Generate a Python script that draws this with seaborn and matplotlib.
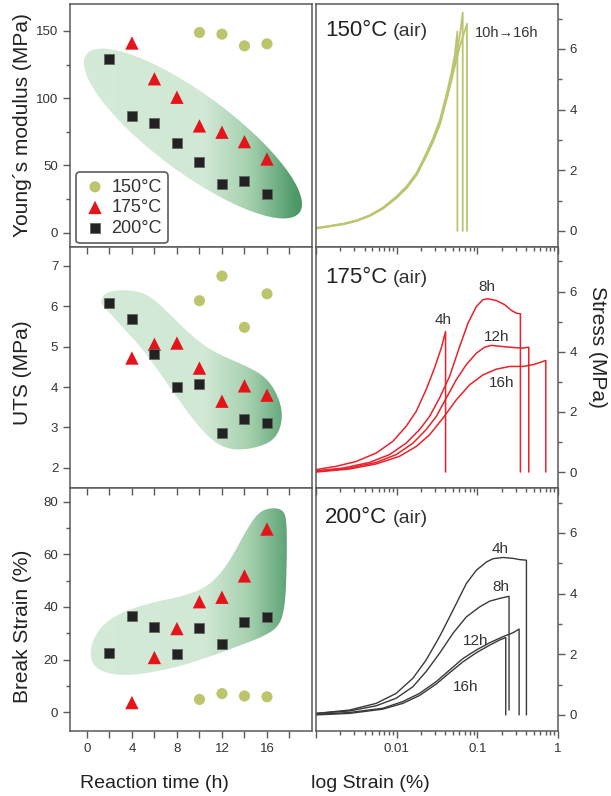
import numpy as np
import pandas as pd
import matplotlib
matplotlib.use("Agg")
import matplotlib.pyplot as plt
import seaborn as sns
from matplotlib.patches import Polygon, Ellipse
from matplotlib.ticker import MultipleLocator, FixedLocator, FixedFormatter, LogLocator, NullFormatter, NullLocator

sns.set_theme(style="white")
plt.rcParams["font.family"] = ["Liberation Sans", "DejaVu Sans"]

# ---------------- data: left column (properties vs reaction time) ----------------
temps = ["150°C", "175°C", "200°C"]
time_150 = [10, 12, 14, 16]
time_175 = [4, 6, 8, 10, 12, 14, 16]
time_200 = [2, 4, 6, 8, 10, 12, 14, 16]
time_major = [0, 4, 8, 12, 16]
time_minor = [2, 6, 10, 14, 18]

modulus_150 = [148.8, 147.6, 138.9, 140.4]
modulus_175 = [141.0, 114.4, 100.7, 79.4, 74.7, 67.7, 54.8]
modulus_200 = [129.2, 86.8, 81.8, 67.0, 52.4, 36.2, 38.5, 29.0]

uts_150 = [6.14, 6.75, 5.48, 6.31]
uts_175 = [4.72, 5.06, 5.09, 4.47, 3.65, 4.03, 3.80]
uts_200 = [6.08, 5.68, 4.83, 3.99, 4.08, 2.86, 3.21, 3.10]

brk_150 = [4.9, 7.1, 6.2, 5.9]
brk_175 = [3.7, 20.8, 31.8, 42.0, 43.7, 51.8, 69.6]
brk_200 = [22.4, 36.6, 32.3, 22.2, 31.9, 26.1, 34.2, 36.3]

# ---------------- data: right column (stress-strain curves) ----------------
s150_strain = {
    "10h": [0.001, 0.0015, 0.0022, 0.00321, 0.00469, 0.00684, 0.010, 0.0133, 0.0177, 0.0234, 0.0284,
            0.0343, 0.0414, 0.0477, 0.0525, 0.0566, 0.0566],
    "12h": [0.001, 0.0015, 0.0022, 0.00321, 0.00469, 0.00684, 0.010, 0.0133, 0.0177, 0.0234, 0.0284,
            0.0343, 0.0414, 0.0477, 0.0525, 0.0605, 0.0659, 0.0659],
    "16h": [0.001, 0.0015, 0.0022, 0.00321, 0.00469, 0.00684, 0.010, 0.0133, 0.0177, 0.0234, 0.0284,
            0.0343, 0.0414, 0.0477, 0.0525, 0.0605, 0.0745, 0.0745],
}
s150_stress = {
    "10h": [0.10, 0.17, 0.24, 0.35, 0.52, 0.78, 1.14, 1.47, 1.92, 2.57, 3.07, 3.66, 4.50, 5.20, 5.80, 6.57, 0.0],
    "12h": [0.09, 0.16, 0.23, 0.34, 0.51, 0.76, 1.11, 1.44, 1.88, 2.52, 3.01, 3.58, 4.40, 5.08, 5.58, 6.41, 7.20, 0.0],
    "16h": [0.08, 0.15, 0.22, 0.33, 0.50, 0.74, 1.09, 1.41, 1.84, 2.47, 2.95, 3.50, 4.30, 4.95, 5.42, 6.08, 6.83, 0.0],
}

s175_strain = {
    "4h": [0.001, 0.00177, 0.00314, 0.00556, 0.00896, 0.0131, 0.0175, 0.0232, 0.0295, 0.0357, 0.0404, 0.0404],
    "8h": [0.001, 0.00214, 0.0046, 0.00815, 0.0131, 0.0192, 0.0256, 0.034, 0.0453, 0.0604, 0.0766, 0.0972,
           0.1175, 0.1358, 0.1722, 0.2187, 0.2645, 0.305, 0.342, 0.342],
    "12h": [0.001, 0.00259, 0.00556, 0.00986, 0.0159, 0.0232, 0.031, 0.0412, 0.0549, 0.073, 0.0972, 0.1234,
            0.1493, 0.2084, 0.305, 0.369, 0.4342, 0.4342],
    "16h": [0.001, 0.00259, 0.00556, 0.0108, 0.0175, 0.0256, 0.0374, 0.0549, 0.0803, 0.1175, 0.1722, 0.2525,
            0.369, 0.492, 0.5947, 0.7058, 0.7058],
}
s175_stress = {
    "4h": [0.08, 0.19, 0.35, 0.63, 1.02, 1.52, 2.02, 2.74, 3.46, 4.12, 4.67, 0.0],
    "8h": [0.04, 0.13, 0.32, 0.58, 0.96, 1.41, 1.85, 2.46, 3.18, 4.17, 4.95, 5.50, 5.73, 5.76, 5.70, 5.56,
           5.37, 5.28, 5.26, 0.0],
    "12h": [0.02, 0.13, 0.32, 0.58, 0.96, 1.41, 1.85, 2.46, 3.07, 3.57, 3.95, 4.15, 4.21, 4.17, 4.13, 4.12, 4.15, 0.0],
    "16h": [0.0, 0.10, 0.27, 0.52, 0.85, 1.24, 1.79, 2.40, 2.90, 3.23, 3.42, 3.51, 3.51, 3.57, 3.64, 3.71, 0.0],
}

s200_strain = {
    "4h": [0.001, 0.00259, 0.00556, 0.00986, 0.0159, 0.0232, 0.034, 0.0499, 0.073, 0.0972, 0.1294, 0.1566,
           0.2084, 0.2775, 0.3357, 0.4061, 0.4061],
    "8h": [0.001, 0.00259, 0.00556, 0.00986, 0.0159, 0.0232, 0.034, 0.0499, 0.073, 0.1066, 0.1422, 0.1892,
           0.2472, 0.2472],
    "12h": [0.001, 0.00259, 0.00673, 0.0119, 0.0192, 0.031, 0.0453, 0.0664, 0.0972, 0.1422, 0.2084, 0.2775,
            0.3296, 0.3296],
    "16h": [0.001, 0.00259, 0.00673, 0.0119, 0.0192, 0.031, 0.0453, 0.0664, 0.0972, 0.1422, 0.1892, 0.225, 0.225],
}
s200_stress = {
    "4h": [0.05, 0.16, 0.38, 0.71, 1.21, 1.81, 2.58, 3.45, 4.33, 4.77, 5.04, 5.15, 5.19, 5.16, 5.12, 5.10, 0.0],
    "8h": [0.05, 0.13, 0.30, 0.55, 0.93, 1.43, 2.03, 2.69, 3.23, 3.56, 3.75, 3.84, 3.91, 0.16],
    "12h": [0.02, 0.08, 0.22, 0.44, 0.71, 1.10, 1.48, 1.86, 2.14, 2.38, 2.58, 2.71, 2.83, 0.0],
    "16h": [0.0, 0.05, 0.19, 0.38, 0.64, 1.02, 1.39, 1.75, 2.05, 2.30, 2.47, 2.55, 0.0],
}

# ---------------- styles ----------------
col150, col175, col200 = "#bcc46c", "#e5141b", "#222222"
line150, line175, line200 = "#bcc470", "#e8232b", "#3a3a3a"
spine_c = "#5a5a5a"
text_c = "#333333"

fig = plt.figure(figsize=(6.11, 7.96), dpi=100)
FW, FH = 611, 796
rows = [(4, 247), (247, 488), (488, 731)]
axL, axR = [], []
for t, b in rows:
    axL.append(fig.add_axes([70 / FW, 1 - b / FH, 242 / FW, (b - t) / FH]))
    axR.append(fig.add_axes([316 / FW, 1 - b / FH, 242 / FW, (b - t) / FH]))


def smooth(pts, n=3):
    p = np.asarray(pts, float)
    for _ in range(n):
        q = 0.75 * p + 0.25 * np.roll(p, -1, axis=0)
        r = 0.25 * p + 0.75 * np.roll(p, -1, axis=0)
        p = np.empty((2 * len(q), 2))
        p[0::2] = q
        p[1::2] = r
    return p


def green_fill(ax, patch):
    xs = np.linspace(0, 1, 400)
    stops = [0.0, 0.56, 0.74, 0.93, 1.0]
    cols = np.array([[213, 235, 217], [208, 232, 212], [165, 208, 174], [78, 153, 104], [72, 148, 98]]) / 255
    img = np.zeros((2, len(xs), 3))
    for c in range(3):
        img[:, :, c] = np.interp(xs, stops, cols[:, c])
    im = ax.imshow(img, extent=[0, 1, 0, 1], transform=ax.transAxes, aspect="auto",
                   zorder=0.5, interpolation="bilinear")
    patch.set_transform(ax.transAxes)
    im.set_clip_path(patch)


# shaded regions (axes-fraction outlines)
green_fill(axL[0], Ellipse((0.508, 0.467), 1.095, 0.321, angle=-36.4))
mid_outline = [(0.128, 0.780), (0.145, 0.810), (0.200, 0.822), (0.276, 0.818), (0.331, 0.796),
               (0.400, 0.734), (0.482, 0.651), (0.565, 0.582), (0.648, 0.540), (0.730, 0.505),
               (0.799, 0.467), (0.847, 0.409), (0.878, 0.324), (0.871, 0.248), (0.836, 0.194),
               (0.771, 0.168), (0.702, 0.158), (0.640, 0.166), (0.579, 0.204), (0.510, 0.282),
               (0.441, 0.379), (0.372, 0.476), (0.303, 0.573), (0.234, 0.649), (0.165, 0.725),
               (0.132, 0.760)]
green_fill(axL[1], Polygon(smooth(mid_outline), closed=True))
bot_outline = [(0.082, 0.320), (0.100, 0.390), (0.150, 0.452), (0.234, 0.497), (0.344, 0.530),
               (0.468, 0.555), (0.558, 0.589), (0.620, 0.644), (0.675, 0.726), (0.730, 0.829),
               (0.778, 0.900), (0.833, 0.920), (0.882, 0.910), (0.896, 0.861), (0.896, 0.690),
               (0.889, 0.512), (0.864, 0.430), (0.799, 0.389), (0.702, 0.352), (0.592, 0.311),
               (0.468, 0.270), (0.344, 0.242), (0.234, 0.228), (0.145, 0.238), (0.094, 0.272)]
green_fill(axL[2], Polygon(smooth(bot_outline), closed=True))

# scatter points
left_sets = [
    (modulus_150, modulus_175, modulus_200),
    (uts_150, uts_175, uts_200),
    (brk_150, brk_175, brk_200),
]
styles = [("o", col150, 64, "none", 0), ("^", col175, 92, "none", 0), ("s", col200, 62, "#666666", 0.6)]
times = [time_150, time_175, time_200]
for ax, vals in zip(axL, left_sets):
    for tlabel, tt, vv, (mk, cc, ss, ec, lw) in zip(temps, times, vals, styles):
        df = pd.DataFrame({"time": tt, "value": vv})
        sns.scatterplot(data=df, x="time", y="value", marker=mk, color=cc, s=ss,
                        edgecolor=ec, linewidth=lw, ax=ax, label=tlabel, zorder=3, legend=False)
    ax.set_xlabel("")
    ax.set_ylabel("")

axL[0].set_ylim(-10.6, 170)
axL[1].set_ylim(1.5, 7.47)
axL[2].set_ylim(-7.1, 85.2)
axL[0].yaxis.set_major_locator(MultipleLocator(50)); axL[0].yaxis.set_minor_locator(MultipleLocator(25))
axL[1].yaxis.set_major_locator(MultipleLocator(1)); axL[1].yaxis.set_minor_locator(NullLocator())
axL[2].yaxis.set_major_locator(MultipleLocator(20)); axL[2].yaxis.set_minor_locator(MultipleLocator(10))

for i, ax in enumerate(axL):
    ax.set_xlim(-1.5, 20)
    ax.xaxis.set_major_locator(FixedLocator(time_major))
    ax.xaxis.set_minor_locator(FixedLocator(time_minor))
    ax.set_facecolor("white")
    for sp in ax.spines.values():
        sp.set_color(spine_c); sp.set_linewidth(1.1)
    ax.tick_params(axis="y", which="both", direction="out", left=True, right=False,
                   colors=spine_c, labelcolor=text_c, labelsize=9.5, width=1.0)
    ax.tick_params(axis="y", which="major", length=5)
    ax.tick_params(axis="y", which="minor", length=3)
    ax.tick_params(axis="x", which="both", top=False, bottom=(i == 2), labelbottom=(i == 2),
                   labeltop=False, direction="out", colors=spine_c, labelcolor=text_c,
                   labelsize=9.5, width=1.0, length=5)
    ax.grid(False)

for ax in axL[1:]:
    sec = ax.secondary_xaxis("top")
    sec.xaxis.set_major_locator(FixedLocator(time_major))
    sec.xaxis.set_minor_locator(FixedLocator(time_minor))
    sec.xaxis.set_major_formatter(NullFormatter())
    sec.tick_params(axis="x", which="both", direction="in", length=5, colors=spine_c, width=1.0)
    sec.spines["top"].set_visible(False)

# legend
h, l = axL[0].get_legend_handles_labels()
leg = axL[0].legend(h, l, loc="lower left", bbox_to_anchor=(0.025, 0.016), borderaxespad=0,
                    frameon=True, fancybox=True, fontsize=13, handletextpad=0.2, labelspacing=0.2,
                    borderpad=0.35, handlelength=1.4)
leg.get_frame().set_edgecolor("#333333")
leg.get_frame().set_linewidth(1.2)
for t in leg.get_texts():
    t.set_color(text_c)

# ---------------- right column ----------------
curve_sets = [
    (s150_strain, s150_stress, line150, 1.3),
    (s175_strain, s175_stress, line175, 1.1),
    (s200_strain, s200_stress, line200, 1.0),
]
for ax, (sx, sy, lc, lw) in zip(axR, curve_sets):
    ax.set_xscale("log")
    for key in sx:
        sns.lineplot(x=sx[key], y=sy[key], sort=False, estimator=None, color=lc, lw=lw, ax=ax)
    ax.set_xlim(0.001, 1)
    ax.set_ylim(-0.53, 7.48)
    ax.set_xlabel(""); ax.set_ylabel("")
    ax.set_facecolor("white")
    for sp in ax.spines.values():
        sp.set_color(spine_c); sp.set_linewidth(1.1)
    ax.yaxis.set_label_position("right")
    ax.yaxis.tick_right()
    ax.yaxis.set_major_locator(MultipleLocator(2))
    ax.yaxis.set_minor_locator(MultipleLocator(1))
    ax.tick_params(axis="y", which="both", direction="out", left=False, right=True, labelleft=False,
                   labelright=True, colors=spine_c, labelcolor=text_c, labelsize=9.5, width=1.0)
    ax.tick_params(axis="y", which="major", length=5)
    ax.tick_params(axis="y", which="minor", length=3)
    ax.xaxis.set_major_locator(FixedLocator([0.001, 0.01, 0.1, 1]))
    ax.xaxis.set_major_formatter(FixedFormatter(["", "0.01", "0.1", "1"]))
    ax.xaxis.set_minor_locator(LogLocator(base=10, subs=np.arange(2, 10)))
    ax.xaxis.set_minor_formatter(NullFormatter())
    ax.grid(False)

for i, ax in enumerate(axR):
    ax.tick_params(axis="x", which="both", top=False, bottom=(i == 2), labelbottom=(i == 2),
                   direction="out", colors=spine_c, labelcolor=text_c, labelsize=9.5, width=1.0)
    ax.tick_params(axis="x", which="major", length=5)
    ax.tick_params(axis="x", which="minor", length=3)
    if i > 0:
        sec = ax.secondary_xaxis("top")
        sec.xaxis.set_major_locator(FixedLocator([0.001, 0.01, 0.1, 1]))
        sec.xaxis.set_minor_locator(LogLocator(base=10, subs=np.arange(2, 10)))
        sec.xaxis.set_major_formatter(NullFormatter())
        sec.xaxis.set_minor_formatter(NullFormatter())
        sec.tick_params(axis="x", which="major", direction="in", length=5, colors=spine_c, width=1.0)
        sec.tick_params(axis="x", which="minor", direction="in", length=3, colors=spine_c, width=1.0)
        sec.spines["top"].set_visible(False)

# panel titles
for ax, name, yb in zip(axR, ["150°C", "175°C", "200°C"], [0.868, 0.849, 0.855]):
    ax.text(0.037, yb, name, transform=ax.transAxes, fontsize=16, color="#222222", va="baseline", ha="left")
    ax.text(0.318, yb, "(air)", transform=ax.transAxes, fontsize=14, color="#333333", va="baseline", ha="left")

axR[0].text(0.094, 6.51, "10h→16h", fontsize=10.5, color="#333333", va="center", ha="left")
for ax, labs in [
    (axR[1], [("4h", 0.038, 5.06), ("8h", 0.133, 6.15), ("12h", 0.174, 4.49), ("16h", 0.201, 2.96)]),
    (axR[2], [("4h", 0.192, 5.46), ("8h", 0.197, 4.22), ("12h", 0.0957, 2.44), ("16h", 0.072, 0.93)]),
]:
    for txt, xx, yy in labs:
        ax.text(xx, yy, txt, fontsize=11, color="#333333", ha="center", va="center")

# axis labels
fig.text(23 / FW, 1 - 125 / FH, "Young´s modulus (MPa)", rotation=90, fontsize=15, color="#222222",
         ha="center", va="center")
fig.text(23 / FW, 1 - 373 / FH, "UTS (MPa)", rotation=90, fontsize=15, color="#222222",
         ha="center", va="center")
fig.text(23 / FW, 1 - 626 / FH, "Break Strain (%)", rotation=90, fontsize=15, color="#222222",
         ha="center", va="center")
fig.text(154 / FW, 1 - 783 / FH, "Reaction time (h)", fontsize=14, color="#222222", ha="center", va="center")
fig.text(370 / FW, 1 - 783 / FH, "log Strain (%)", fontsize=14, color="#222222", ha="center", va="center")
fig.text(598 / FW, 1 - 347 / FH, "Stress (MPa)", rotation=270, fontsize=15, color="#222222",
         ha="center", va="center")

fig.savefig("out.png", dpi=100, facecolor="white")
